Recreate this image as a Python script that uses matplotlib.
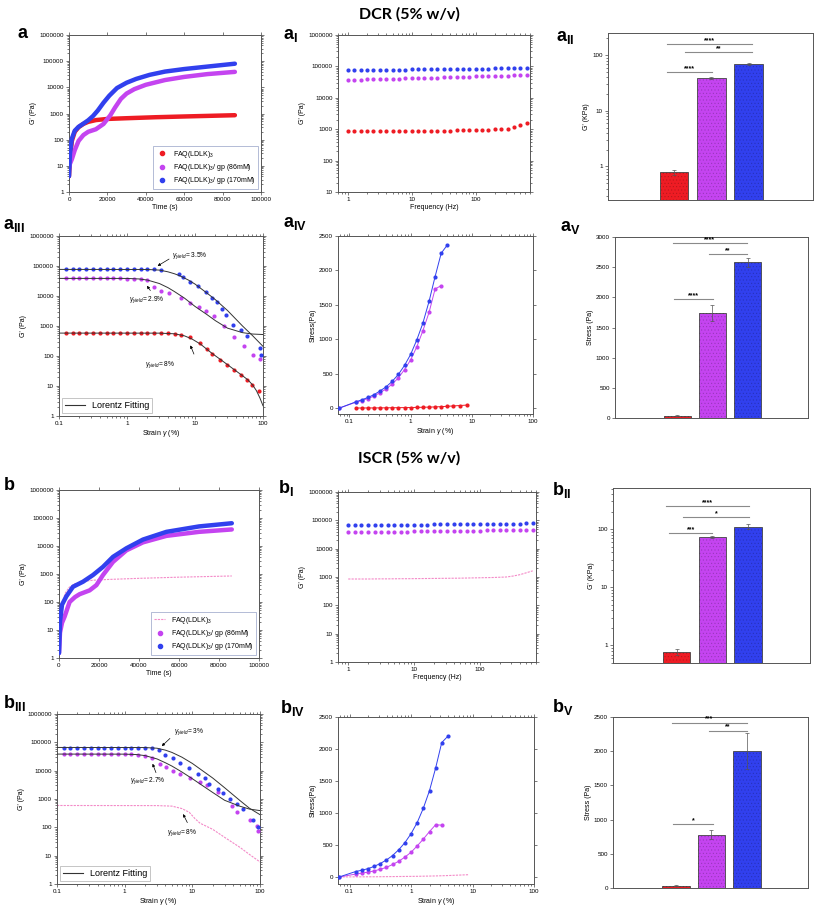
import numpy as np
import matplotlib
matplotlib.use("Agg")
import matplotlib.pyplot as plt
from matplotlib.ticker import FixedLocator, FuncFormatter, LogLocator, NullFormatter
from matplotlib.lines import Line2D

plt.rcParams['font.family'] = ['Liberation Sans', 'DejaVu Sans']
plt.rcParams['mathtext.fontset'] = 'custom'
plt.rcParams['mathtext.rm'] = 'Liberation Sans'
plt.rcParams['mathtext.it'] = 'Liberation Sans:italic'
plt.rcParams['mathtext.bf'] = 'Liberation Sans:bold'
plt.rcParams['hatch.linewidth'] = 0.4

RED = '#ee1c24'
MAG = '#c444f0'
BLUE = '#3140ee'
PINK = '#f48ac8'

LABELS = [r'FAQ(LDLK)$_3$', r'FAQ(LDLK)$_3$/ gp (86mM)', r'FAQ(LDLK)$_3$/ gp (170mM)']

# ---------------- DCR: time sweep (a)
a_t_red = [0, 500, 1500, 3000, 5000, 7500, 10000, 14000, 20000, 30000, 45000, 60000, 75000, 86400]
a_red = [4, 20, 90, 200, 300, 400, 480, 560, 620, 660, 720, 770, 820, 860]
a_t_mag = [0, 500, 1500, 3000, 5000, 7500, 10000, 14000, 18000, 21500, 24000, 27000, 30000, 34000,
           40000, 50000, 60000, 72000, 86400]
a_mag = [8, 12, 18, 40, 90, 150, 200, 250, 400, 850, 1700, 3600, 5800, 8500, 12500, 19000, 25000, 32000, 39000]
a_t_blue = [0, 500, 1500, 3000, 5000, 7500, 10000, 12500, 15000, 18000, 21000, 25000, 30000, 35000,
            42000, 50000, 60000, 72000, 86400]
a_blue = [4, 30, 110, 220, 310, 410, 550, 800, 1300, 2600, 4800, 9400, 15000, 21000, 30000, 40000, 50000, 62000, 80000]

# ---------------- ISCR: time sweep (b)
b_t_red = [0, 500, 1500, 3000, 5000, 8000, 12000, 17000, 25000, 40000, 60000, 86400]
b_red = [2, 15, 80, 200, 330, 450, 540, 600, 640, 700, 770, 850]
b_t_mag = [0, 500, 1500, 2800, 5300, 8000, 10300, 15300, 18700, 22000, 27000, 33700, 42000, 53700, 70000, 86400]
b_mag = [1.5, 8, 18, 30, 100, 150, 190, 260, 400, 920, 2700, 7000, 13500, 23000, 32000, 39000]
b_t_blue = [0, 500, 1500, 3700, 7000, 12000, 17000, 22000, 27000, 33700, 42000, 53700, 70000, 86400]
b_blue = [1.5, 20, 80, 160, 350, 530, 920, 1800, 4100, 8300, 17000, 32000, 50000, 65000]

# ---------------- frequency sweeps (aI, bI)
freq = [1, 1.26, 1.58, 2, 2.51, 3.16, 3.98, 5.01, 6.31, 7.94, 10, 12.6, 15.8, 20, 25.1, 31.6, 39.8, 50.1,
        63.1, 79.4, 100, 126, 158, 200, 251, 316, 398, 501, 631]
a1_red = [850, 850, 850, 850, 855, 860, 860, 865, 870, 870, 875, 880, 885, 890, 895, 900, 905, 910, 920,
          930, 940, 950, 960, 980, 1000, 1050, 1150, 1350, 1550]
a1_mag = [37000, 37500, 38000, 38500, 39000, 39500, 40000, 40500, 41000, 41500, 42000, 42500, 43000, 43500,
          44000, 44500, 45000, 46000, 46500, 47000, 48000, 48500, 49000, 50000, 50500, 51000, 52000, 52500, 53000]
a1_blue = [76000, 76500, 77000, 77000, 77500, 78000, 78000, 78500, 79000, 79500, 80000, 80500, 81000, 81000,
           81500, 82000, 82500, 83000, 83500, 84000, 84500, 85000, 85500, 86000, 86500, 87000, 87500, 88000, 88000]
b1_red = [850, 850, 850, 850, 855, 860, 860, 865, 870, 870, 875, 880, 885, 890, 895, 900, 905, 910, 920,
          930, 940, 950, 960, 980, 1000, 1080, 1200, 1400, 1650]
b1_mag = [38000, 38000, 38500, 38500, 39000, 39000, 39500, 39500, 40000, 40000, 40500, 41000, 41000, 41500,
          41500, 42000, 42000, 42500, 43000, 43000, 43500, 44000, 44000, 44500, 45000, 45000, 45500, 46000, 46000]
b1_blue = [67000, 67500, 67500, 68000, 68000, 68500, 69000, 69000, 69500, 70000, 70000, 70500, 71000, 71500,
           72000, 72000, 72500, 73000, 73500, 74000, 74500, 75000, 75000, 75500, 76000, 76500, 77000, 77500, 78000]

# ---------------- bar charts
bar_pos = [1, 2, 3]
bar_colors = [RED, MAG, BLUE]
a2_val = [0.78, 39, 69]
a2_err = [0.08, 1.5, 2]
a5_val = [40, 1735, 2578]
a5_err = [10, 135, 70]
b2_val = [0.78, 73, 111]
b2_err = [0.08, 3, 12]
b5_val = [34, 777, 2003]
b5_err = [8, 65, 270]
# significance: (x1, x2, y, text)
a2_sig = [(0.8, 2.02, 49, '****'), (0.8, 3.08, 160, '****'), (1.3, 3.08, 115, '**')]
a5_sig = [(0.92, 2.01, 1967, '****'), (0.87, 2.98, 2900, '****'), (1.9, 2.98, 2717, '**')]
b2_sig = [(0.8, 2.0, 86, '***'), (0.7, 3.02, 247, '****'), (1.19, 3.02, 159, '*')]
b5_sig = [(0.92, 2.04, 931, '*'), (0.88, 3.0, 2418, '***'), (1.94, 3.0, 2302, '**')]

# ---------------- amplitude sweeps (aIII, bIII)
a3_red_x = [0.126, 0.158, 0.2, 0.251, 0.316, 0.398, 0.501, 0.631, 0.794, 1.0, 1.26, 1.58, 2.0, 2.51, 3.16, 3.98,
            5.0, 6.3, 8.5, 11.7, 15, 18, 23, 30, 38, 47, 58, 70, 88]
a3_red = [575, 575, 575, 575, 575, 575, 575, 575, 575, 575, 575, 575, 575, 575, 575, 570,
          540, 520, 440, 275, 175, 115, 75, 52, 35, 24, 16, 11, 7]
a3_mag_x = [0.126, 0.158, 0.2, 0.251, 0.316, 0.398, 0.501, 0.631, 0.794, 1.0, 1.26, 1.58, 2.0,
            2.51, 3.2, 4.1, 6.3, 8.5, 11.3, 14.5, 18.8, 27, 38, 53, 71, 90]
a3_mag = [38600, 38600, 38600, 38600, 38600, 38600, 38600, 38600, 38600, 38000, 37000, 36000, 34000,
          20000, 15000, 12500, 8300, 6000, 4300, 3200, 2200, 1000, 440, 210, 110, 77]
a3_blue_x = [0.126, 0.158, 0.2, 0.251, 0.316, 0.398, 0.501, 0.631, 0.794, 1.0, 1.26, 1.58, 2.0, 2.51,
             3.16, 5.75, 6.6, 8.5, 11, 14.5, 18, 21, 25, 29, 36, 47, 58, 90, 95]
a3_blue = [77000, 77000, 77000, 77000, 77000, 77000, 77000, 77000, 77000, 77000, 77000, 77000, 77000, 77000,
           75000, 54000, 44000, 30000, 21000, 14000, 8900, 6200, 3700, 2400, 1100, 730, 460, 180, 110]
a3_fit_red_x = [0.1, 3, 5, 7, 9, 12, 18, 25, 36, 50, 60, 70, 80, 90, 100]
a3_fit_red = [580, 578, 550, 470, 370, 250, 120, 70, 38, 22, 16, 11, 7, 4, 2.2]
a3_fit_mag_x = [0.1, 1, 1.5, 2, 3, 4, 5, 7, 10, 15, 20, 30, 50, 70, 100]
a3_fit_mag = [38600, 38500, 37000, 34000, 26000, 19000, 14000, 8500, 4500, 2400, 1500, 850, 600, 540, 520]
a3_fit_blue_x = [0.1, 2, 3, 4, 5, 6, 8, 10, 15, 20, 30, 50, 70, 100]
a3_fit_blue = [77000, 76500, 73000, 64000, 55000, 47000, 34000, 25000, 12500, 7500, 3300, 1000, 480, 210]

b3_red_x = [0.1, 3, 5, 7, 9, 11, 13, 20, 32, 50, 70, 100]
b3_red = [590, 585, 560, 460, 340, 200, 140, 85, 40, 20, 11, 6]
b3_mag_x = [0.126, 0.158, 0.2, 0.251, 0.316, 0.398, 0.501, 0.631, 0.794, 1.0, 1.26, 1.58,
            2.0, 2.5, 3.3, 4.1, 5.2, 6.6, 9.3, 12.8, 16.5, 24, 39, 46, 72, 90, 93]
b3_mag = [38000, 38000, 38000, 38000, 38000, 38000, 38000, 38000, 38000, 38000, 37500, 37000,
          34000, 28000, 17000, 13000, 10000, 7500, 5700, 4000, 3100, 1700, 580, 350, 180, 115, 75]
b3_blue_x = [0.126, 0.158, 0.2, 0.251, 0.316, 0.398, 0.501, 0.631, 0.794, 1.0, 1.26, 1.58, 2.0, 2.51,
             3.2, 4.0, 5.2, 6.6, 8.8, 12.3, 15.2, 17.4, 23.7, 28, 36, 46, 57, 80, 93]
b3_blue = [65000, 65000, 65000, 65000, 65000, 65000, 65000, 65000, 65000, 65000, 65000, 65000, 65000, 65000,
           55000, 37000, 27000, 19000, 12000, 7400, 5700, 3500, 2300, 1600, 1000, 670, 450, 175, 100]
b3_fit_mag_x = [0.1, 1, 1.5, 2, 3, 4, 5, 7, 10, 15, 20, 30, 50, 70, 100]
b3_fit_mag = [38500, 38300, 37000, 34000, 26000, 19000, 14500, 9000, 5200, 2700, 1700, 900, 560, 440, 390]
b3_fit_blue_x = [0.1, 2, 3, 4, 5, 7, 10, 15, 20, 30, 50, 70, 100]
b3_fit_blue = [66000, 65500, 62000, 53000, 44000, 30000, 18000, 9000, 5500, 2500, 900, 470, 280]

# ---------------- stress-strain (aIV, bIV)
ss_x = [0.068, 0.126, 0.158, 0.2, 0.251, 0.316, 0.398, 0.501, 0.631, 0.794, 1.0, 1.26, 1.58, 2.0, 2.51, 3.16, 3.98]
a4_blue = [0, 90, 120, 155, 195, 250, 310, 390, 490, 620, 780, 990, 1230, 1550, 1910, 2250, 2370]
a4_mag = [0, 85, 110, 140, 175, 225, 280, 350, 440, 560, 700, 890, 1120, 1390, 1730, 1780]
red_ss_x = [0.126, 0.158, 0.2, 0.251, 0.316, 0.398, 0.501, 0.631, 0.794, 1.0, 1.26, 1.58, 2.0, 2.51, 3.16,
            3.98, 5.01, 6.31, 8.5]
a4_red = [2, 2, 3, 3, 4, 5, 6, 7, 8, 9, 11, 13, 15, 18, 22, 27, 32, 38, 45]
b4_blue = [0, 85, 105, 130, 165, 210, 265, 335, 425, 535, 675, 850, 1070, 1350, 1700, 2100, 2200]
b4_mag = [0, 45, 60, 75, 95, 120, 150, 195, 245, 310, 385, 485, 590, 710, 815, 810]
b4_red = [2, 2, 3, 3, 4, 5, 6, 7, 8, 9, 10, 12, 14, 16, 19, 22, 26, 30, 35]

W, H = 817, 915
fig = plt.figure(figsize=(W / 100, H / 100), dpi=100)


def rect(l, t, r, b):
    return [l / W, 1 - b / H, (r - l) / W, (b - t) / H]


def plain(v, pos):
    return f"{v:g}" if v < 1 else f"{int(round(v))}"


def style(ax):
    for s in ax.spines.values():
        s.set_color('#555555')
        s.set_linewidth(0.7)
    ax.tick_params(which='both', labelsize=4.5, width=0.5, colors='#444444', labelcolor='black', pad=1.5)
    ax.tick_params(which='major', length=2.2)
    ax.tick_params(which='minor', length=1.2)
    ax.tick_params(top=True, right=True, which='both', direction='in')
    ax.tick_params(bottom=True, left=True, which='both', direction='out')


def log_y(ax, lo, hi):
    ax.set_yscale('log')
    ax.set_ylim(lo, hi)
    ax.yaxis.set_major_formatter(FuncFormatter(plain))
    ax.yaxis.set_minor_formatter(NullFormatter())


def log_x(ax, lo, hi):
    ax.set_xscale('log')
    ax.set_xlim(lo, hi)
    ax.xaxis.set_major_formatter(FuncFormatter(plain))
    ax.xaxis.set_minor_formatter(NullFormatter())


def time_panel(ax, red_t, red, mag_t, mag, blue_t, blue, dashed):
    if dashed:
        ax.plot(red_t, red, color=PINK, lw=0.8, ls=(0, (2, 1)), zorder=1)
    else:
        ax.plot(red_t, red, color=RED, lw=3.2, solid_capstyle='round', zorder=2)
    ax.plot(mag_t, mag, color=MAG, lw=3.2, solid_capstyle='round', zorder=3)
    ax.plot(blue_t, blue, color=BLUE, lw=3.2, solid_capstyle='round', zorder=4)
    ax.set_xlim(0, 100000)
    ax.xaxis.set_major_locator(FixedLocator([0, 20000, 40000, 60000, 80000, 100000]))
    ax.xaxis.set_major_formatter(FuncFormatter(plain))
    log_y(ax, 1, 1000000)
    ax.set_xlabel('Time (s)', fontsize=5, labelpad=1.5)
    ax.set_ylabel("G' (Pa)", fontsize=5, labelpad=1.5)
    first = Line2D([], [], color=PINK, lw=0.8, ls=(0, (2, 1))) if dashed else \
        Line2D([], [], color=RED, marker='o', ls='none', ms=3)
    handles = [first,
               Line2D([], [], color=MAG, marker='o', ls='none', ms=3),
               Line2D([], [], color=BLUE, marker='o', ls='none', ms=3)]
    leg = ax.legend(handles, LABELS, loc='lower right', fontsize=5, frameon=True, fancybox=False,
                    borderpad=0.4, handlelength=1.6, labelspacing=0.35, borderaxespad=0.4)
    leg.get_frame().set_edgecolor('#7a8ab8')
    leg.get_frame().set_linewidth(0.5)
    style(ax)


def freq_panel(ax, red, mag, blue, dashed, ylo):
    if dashed:
        ax.plot(freq, red, color=PINK, lw=0.8, ls=(0, (2, 1)))
    else:
        ax.plot(freq, red, 'o', color=RED, ms=3, mew=0)
    ax.plot(freq, mag, 'o', color=MAG, ms=3, mew=0)
    ax.plot(freq, blue, 'o', color=BLUE, ms=3, mew=0)
    log_x(ax, 0.7, 708)
    log_y(ax, ylo, 1000000)
    ax.set_xlabel('Frequency (Hz)', fontsize=5, labelpad=1.5)
    ax.set_ylabel("G' (Pa)", fontsize=5, labelpad=1.5)
    style(ax)


def bar_panel(ax, vals, errs, sigs, logscale, ylim, ylabel, yticks):
    ax.bar(bar_pos, vals, width=0.77, color=bar_colors, edgecolor='#444444', linewidth=0.6, zorder=2)
    ax.bar(bar_pos, vals, width=0.77, color='none', edgecolor=(0, 0, 0, 0.18), linewidth=0,
           hatch='.....', zorder=3)
    ax.errorbar(bar_pos, vals, yerr=errs, fmt='none', ecolor='#555555', elinewidth=0.5, capsize=1.5,
                capthick=0.5, zorder=4)
    for x1, x2, y, txt in sigs:
        ax.plot([x1, x2], [y, y], color='#8a8a8a', lw=0.8, zorder=5)
        ax.text((x1 + x2) / 2, y, txt, ha='center', va='bottom', fontsize=5, fontweight='bold')
    ax.set_xlim(-0.77, 4.72)
    ax.set_xticks([])
    if logscale:
        log_y(ax, ylim[0], ylim[1])
    else:
        ax.set_ylim(*ylim)
    ax.yaxis.set_major_locator(FixedLocator(yticks))
    ax.yaxis.set_major_formatter(FuncFormatter(plain))
    ax.set_ylabel(ylabel, fontsize=5, labelpad=1.5)
    style(ax)
    ax.tick_params(top=False, right=False, which='both')


def amp_panel(ax, series, fits, pink, notes):
    for x, y, c in series:
        ax.plot(x, y, 'o', color=c, ms=3, mew=0, zorder=3)
    if pink is not None:
        ax.plot(pink[0], pink[1], color=PINK, lw=0.8, ls=(0, (2, 1)), zorder=2)
    for x, y in fits:
        ax.plot(x, y, color='#333333', lw=0.7, zorder=4)
    log_x(ax, 0.1, 100)
    log_y(ax, 1, 1000000)
    ax.set_xlabel(r'Strain $\gamma$ (%)', fontsize=5, labelpad=1.0)
    ax.set_ylabel("G' (Pa)", fontsize=5, labelpad=1.5)
    for txt, xt, yt, xa, ya, xh, yh in notes:
        ax.text(xt, yt, txt, fontsize=4.8, ha='left', va='center')
        ax.annotate('', xy=(xh, yh), xytext=(xa, ya),
                    arrowprops=dict(arrowstyle='-|>', color='black', lw=0.5, mutation_scale=4))
    leg = ax.legend([Line2D([], [], color='#333333', lw=0.8)], ['Lorentz Fitting'], loc='lower left',
                    fontsize=6.5, frameon=True, fancybox=False, handlelength=2.2, borderaxespad=0.3,
                    borderpad=0.35)
    leg.get_frame().set_edgecolor('#999999')
    leg.get_frame().set_linewidth(0.5)
    style(ax)


def ss_panel(ax, blue, mag, red, dashed, ylo):
    ax.plot(ss_x, blue, '-o', color=BLUE, ms=3, mew=0, lw=0.7, zorder=3)
    ax.plot(ss_x[:len(mag)], mag, '-o', color=MAG, ms=3, mew=0, lw=0.7, zorder=2)
    if dashed:
        ax.plot([ss_x[0]] + red_ss_x, [0] + red, color=PINK, lw=0.8, ls=(0, (2, 1)), zorder=1)
    else:
        ax.plot(red_ss_x, red, '-o', color=RED, ms=3, mew=0, lw=0.7, zorder=1)
    log_x(ax, 0.065, 100)
    ax.set_ylim(ylo, 2500)
    ax.yaxis.set_major_locator(FixedLocator([0, 500, 1000, 1500, 2000, 2500]))
    ax.set_xlabel(r'Strain $\gamma$ (%)', fontsize=5, labelpad=1.0)
    ax.set_ylabel('Stress(Pa)', fontsize=5, labelpad=1.5)
    style(ax)


# ---- DCR row 1
ax = fig.add_axes(rect(69, 35, 261, 192))
time_panel(ax, a_t_red, a_red, a_t_mag, a_mag, a_t_blue, a_blue, False)
ax = fig.add_axes(rect(338, 35, 530, 192))
freq_panel(ax, a1_red, a1_mag, a1_blue, False, 10)
ax = fig.add_axes(rect(608, 33, 813, 200))
bar_panel(ax, a2_val, a2_err, a2_sig, True, (0.25, 250), "G' (KPa)", [1, 10, 100])

# ---- DCR row 2
ax = fig.add_axes(rect(59, 236, 263, 416))
amp_panel(ax, [(a3_red_x, a3_red, RED), (a3_mag_x, a3_mag, MAG), (a3_blue_x, a3_blue, BLUE)],
          [(a3_fit_red_x, a3_fit_red), (a3_fit_mag_x, a3_fit_mag), (a3_fit_blue_x, a3_fit_blue)], None,
          [(r'$\gamma_{yield}$= 3.5%', 4.6, 230000, 4.5, 190000, 2.6, 90000),
           (r'$\gamma_{yield}$= 2.9%', 1.06, 7600, 2.33, 12800, 1.86, 26000),
           (r'$\gamma_{yield}$= 8%', 1.86, 52, 10, 95, 8.25, 275)])
ax = fig.add_axes(rect(338, 236, 533, 414))
ss_panel(ax, a4_blue, a4_mag, a4_red, False, -85)
ax = fig.add_axes(rect(615, 237, 808, 418))
bar_panel(ax, a5_val, a5_err, a5_sig, False, (0, 3000), 'Stress (Pa)', [0, 500, 1000, 1500, 2000, 2500, 3000])

# ---- ISCR row 1
ax = fig.add_axes(rect(59, 490, 259, 658))
time_panel(ax, b_t_red, b_red, b_t_mag, b_mag, b_t_blue, b_blue, True)
ax = fig.add_axes(rect(338, 492, 536, 662))
freq_panel(ax, b1_red, b1_mag, b1_blue, True, 1)
ax = fig.add_axes(rect(613, 488, 810, 663))
bar_panel(ax, b2_val, b2_err, b2_sig, True, (0.5, 510), "G' (KPa)", [1, 10, 100])

# ---- ISCR row 2
ax = fig.add_axes(rect(57, 714, 260, 884))
amp_panel(ax, [(b3_mag_x, b3_mag, MAG), (b3_blue_x, b3_blue, BLUE)],
          [(b3_fit_mag_x, b3_fit_mag), (b3_fit_blue_x, b3_fit_blue)], (b3_red_x, b3_red),
          [(r'$\gamma_{yield}$= 3%', 5.3, 230000, 5.0, 160000, 3.3, 63000),
           (r'$\gamma_{yield}$= 2.7%', 1.2, 4300, 3.0, 6900, 2.5, 21700),
           (r'$\gamma_{yield}$= 8%', 4.2, 65, 8.8, 120, 7.0, 360)])
ax = fig.add_axes(rect(338, 717, 534, 884))
ss_panel(ax, b4_blue, b4_mag, b4_red, True, -110)
ax = fig.add_axes(rect(613, 717, 808, 888))
bar_panel(ax, b5_val, b5_err, b5_sig, False, (0, 2500), 'Stress (Pa)', [0, 500, 1000, 1500, 2000, 2500])

# ---- titles and panel letters
fig.text(409 / W, 1 - 14 / H, 'DCR (5% w/v)', ha='center', va='center', fontsize=11.5,
         fontweight='bold', family='Lato')
fig.text(409 / W, 1 - 458 / H, 'ISCR (5% w/v)', ha='center', va='center', fontsize=11.5,
         fontweight='bold', family='Lato')
panel_tags = [(17, 34, 'a', ''), (283, 35, 'a', 'I'), (556, 37, 'a', 'II'),
              (3, 226, 'a', 'III'), (283, 224, 'a', 'IV'), (560, 227, 'a', 'V'),
              (3, 486, 'b', ''), (278, 488, 'b', 'I'), (552, 490, 'b', 'II'),
              (3, 703, 'b', 'III'), (280, 708, 'b', 'IV'), (552, 707, 'b', 'V')]
for x, y, letter, sub in panel_tags:
    s = r'$\mathbf{%s}_{\mathbf{%s}}$' % (letter, sub) if sub else r'$\mathbf{%s}$' % letter
    fig.text(x / W, 1 - y / H, s, ha='left', va='center', fontsize=13)

fig.savefig('out.png', dpi=100)
